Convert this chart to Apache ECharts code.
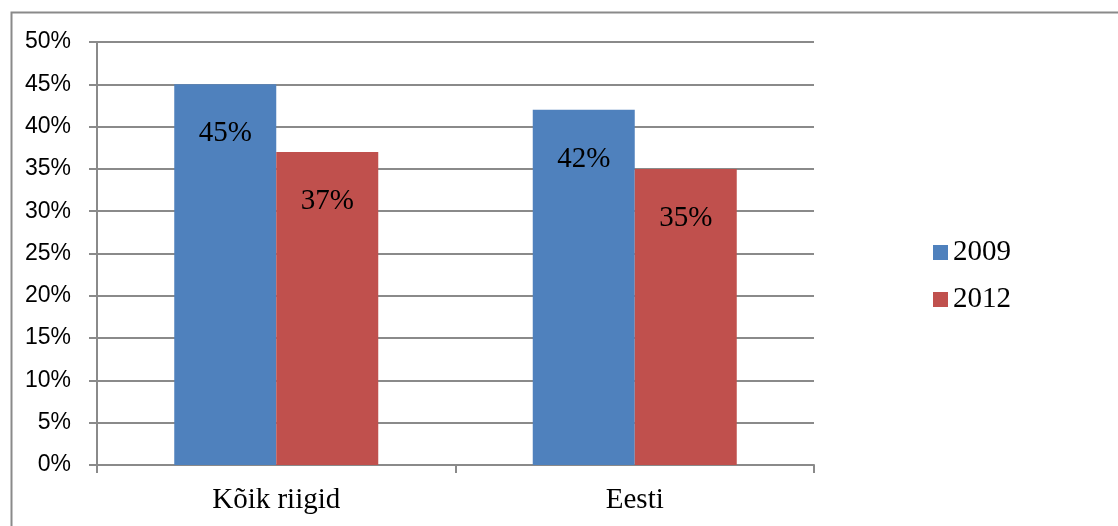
<!DOCTYPE html>
<html><head><meta charset="utf-8">
<script src="https://cdn.jsdelivr.net/npm/echarts@6/dist/echarts.min.js"></script>
<style>html,body{margin:0;padding:0;background:#fff}#c{width:1118px;height:526px}</style>
</head><body><div id="c"></div>
<script>
const categories = ['Kõik riigid', 'Eesti'];
const seriesNames = ['2009', '2012'];
const values2009 = [45, 42];
const values2012 = [37, 35];
const yTicks = [0, 5, 10, 15, 20, 25, 30, 35, 40, 45, 50];

const chart = echarts.init(document.getElementById('c'), null, {renderer: 'canvas'});
const serif = '"Liberation Serif", "Times New Roman", serif';
const sans = '"Liberation Sans", Arial, sans-serif';
const labelCfg = {
  show: true, position: 'insideTop', distance: 35,
  formatter: p => p.value + '%',
  fontFamily: serif, fontSize: 29, color: '#000'
};
chart.setOption({
  animation: false,
  graphic: [{
    type: 'rect', left: 9, top: 10,
    shape: {width: 1120, height: 530},
    style: {fill: 'none', stroke: '#8a8a8a', lineWidth: 2},
    silent: true
  }],
  grid: {left: 97, right: 304, top: 42, bottom: 61},
  legend: {
    orient: 'vertical', left: 933, top: 238, padding: 0,
    itemWidth: 15, itemHeight: 15, itemGap: 18, icon: 'rect',
    textStyle: {fontFamily: serif, fontSize: 29, color: '#000'},
    data: seriesNames
  },
  xAxis: {
    type: 'category', data: categories,
    axisLine: {lineStyle: {color: '#8a8a8a', width: 2}},
    axisTick: {show: true, length: 8, lineStyle: {color: '#8a8a8a', width: 2}},
    axisLabel: {fontFamily: serif, fontSize: 29, color: '#000', margin: 21}
  },
  yAxis: {
    type: 'value', min: yTicks[0], max: yTicks[yTicks.length - 1], interval: 5,
    axisLine: {show: true, lineStyle: {color: '#8a8a8a', width: 2}},
    axisTick: {show: true, length: 8, lineStyle: {color: '#8a8a8a', width: 2}},
    splitLine: {lineStyle: {color: '#8a8a8a', width: 2}},
    axisLabel: {formatter: v => v + '%', fontFamily: sans, fontSize: 23, color: '#000', margin: 26}
  },
  series: [
    {name: seriesNames[0], type: 'bar', data: values2009, barWidth: 102, barGap: '0%',
     itemStyle: {color: '#4f81bd'}, label: labelCfg},
    {name: seriesNames[1], type: 'bar', data: values2012, barWidth: 102, barGap: '0%',
     itemStyle: {color: '#c0504d'}, label: labelCfg}
  ]
});
</script></body></html>
